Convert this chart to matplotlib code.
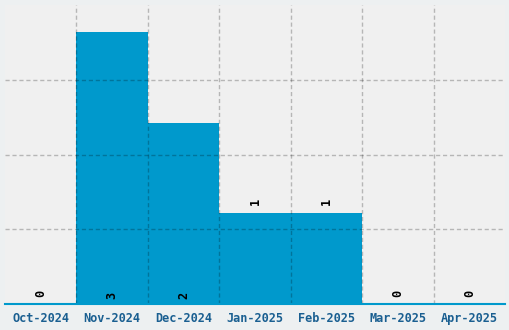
import matplotlib
matplotlib.use("Agg")
import matplotlib.pyplot as plt
import numpy as np

categories = ["Oct-2024", "Nov-2024", "Dec-2024", "Jan-2025", "Feb-2025", "Mar-2025", "Apr-2025"]
values = [0, 3, 2, 1, 1, 0, 0]
label_y = [0.12, 0.09, 0.09, 1.13, 1.13, 0.12, 0.12]

fig = plt.figure(figsize=(5.1, 3.3), dpi=100, facecolor="#edf0f1")
ax = fig.add_axes([5/510, 26/330, 500/510, 299/330])
ax.set_facecolor("#f0f0f0")

x = np.arange(len(categories))
ax.bar(x, values, width=1.0, color="#0099cc", zorder=2)

ax.set_xlim(-0.5, len(categories) - 0.5)
ax.set_ylim(0, 3.3)

ax.set_xticks(x)
ax.set_xticklabels(categories, fontfamily="DejaVu Sans Mono", fontweight="bold",
                   fontsize=8.6, color="#1a5f91")
ax.set_xticks(x[:-1] + 0.5, minor=True)
ax.set_yticks([0.825, 1.65, 2.475])
ax.set_yticklabels([])
ax.tick_params(axis="both", which="both", length=0)
ax.tick_params(axis="x", pad=6)

ax.grid(True, axis="x", which="minor", color="black", alpha=0.24, linestyle=(0, (3, 2)), linewidth=1, zorder=3)
ax.grid(True, axis="y", which="major", color="black", alpha=0.24, linestyle=(0, (3, 2)), linewidth=1, zorder=3)
ax.grid(False, axis="x", which="major")
ax.set_axisbelow(False)

for s in ["top", "left", "right"]:
    ax.spines[s].set_visible(False)
ax.spines["bottom"].set_color("#0099cc")
ax.spines["bottom"].set_linewidth(1.5)
ax.spines["bottom"].set_zorder(4)

for xi, v, ly in zip(x, values, label_y):
    ax.text(xi, ly, str(v), rotation=90, ha="center", va="center",
            fontfamily="DejaVu Sans Mono", fontweight="bold", fontsize=8.6,
            color="black", zorder=5)

fig.savefig("out.png", dpi=100, facecolor=fig.get_facecolor())
